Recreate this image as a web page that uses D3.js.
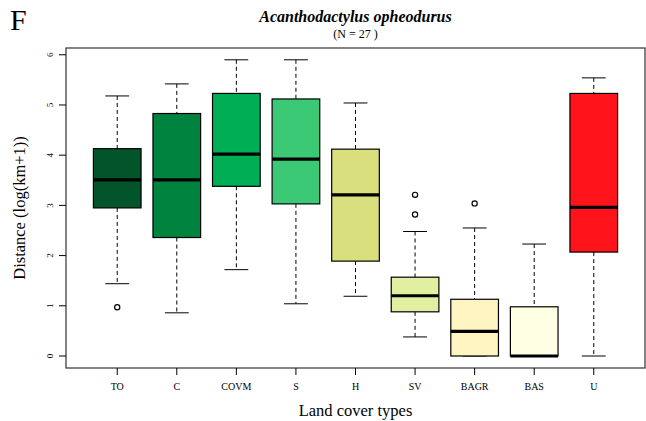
<!DOCTYPE html>
<html>
<head>
<meta charset="utf-8">
<script src="https://cdn.jsdelivr.net/npm/d3@7"></script>
<style>
  body { margin: 0; background: #fff; }
  text { font-family: "Liberation Serif", "Times New Roman", serif; }
</style>
</head>
<body>
<svg id="chart" width="646" height="421"></svg>
<script>
// land cover categories and box stats
const categories = ['TO', 'C', 'COVM', 'S', 'H', 'SV', 'BAGR', 'BAS', 'U']
const whiskerLow = [1.44, 0.86, 1.72, 1.04, 1.19, 0.38, 0.00, 0.00, 0.00]
const q1         = [2.95, 2.36, 3.38, 3.03, 1.89, 0.88, 0.00, 0.00, 2.07]
const medians    = [3.51, 3.51, 4.02, 3.92, 3.21, 1.20, 0.49, 0.00, 2.96]
const q3         = [4.13, 4.83, 5.23, 5.12, 4.12, 1.57, 1.13, 0.98, 5.23]
const whiskerHigh= [5.18, 5.42, 5.90, 5.90, 5.04, 2.48, 2.55, 2.23, 5.54]
const outliers   = [[0.97], [], [], [], [], [3.21, 2.82], [3.04], [], []]
const fills = ['#02552a', '#00833f', '#00ae55', '#3bc976', '#d8df7c', '#e1efa3', '#fef5c3', '#ffffe3', '#ff141c']
const yTicks = [0, 1, 2, 3, 4, 5, 6]

const svg = d3.select('#chart')
const plot = {left: 66, right: 645, top: 48, bottom: 368}

// R style: categories at 1..n, xlim 0.5..n+0.5 extended by 4%
const n = categories.length
const xlo = 0.5 - 0.04 * n, xhi = n + 0.5 + 0.04 * n
const x = d3.scaleLinear().domain([xlo, xhi]).range([plot.left, plot.right])
const y = d3.scaleLinear().domain([-0.239, 6.135]).range([plot.bottom, plot.top])

const boxW = 0.8 * (x(2) - x(1))
const capW = boxW / 2

const data = categories.map((c, i) => ({
    name: c, pos: i + 1, lo: whiskerLow[i], q1: q1[i], med: medians[i],
    q3: q3[i], hi: whiskerHigh[i], out: outliers[i], fill: fills[i]
}))

const g = svg.append('g')

const box = g.selectAll('g.box')
    .data(data)
    .enter()
    .append('g')
    .attr('class', 'box')

// dashed whiskers
box.append('line')
    .attr('x1', d => x(d.pos)).attr('x2', d => x(d.pos))
    .attr('y1', d => y(d.hi)).attr('y2', d => y(d.q3))
    .attr('stroke', '#000').attr('stroke-dasharray', '4,3')
box.append('line')
    .attr('x1', d => x(d.pos)).attr('x2', d => x(d.pos))
    .attr('y1', d => y(d.q1)).attr('y2', d => y(d.lo))
    .attr('stroke', '#000').attr('stroke-dasharray', '4,3')

// staples
box.append('line')
    .attr('x1', d => x(d.pos) - capW / 2).attr('x2', d => x(d.pos) + capW / 2)
    .attr('y1', d => y(d.hi)).attr('y2', d => y(d.hi))
    .attr('stroke', '#000')
box.append('line')
    .attr('x1', d => x(d.pos) - capW / 2).attr('x2', d => x(d.pos) + capW / 2)
    .attr('y1', d => y(d.lo)).attr('y2', d => y(d.lo))
    .attr('stroke', '#000')

// the box itself
box.append('rect')
    .attr('x', d => x(d.pos) - boxW / 2)
    .attr('width', boxW)
    .attr('y', d => y(d.q3))
    .attr('height', d => y(d.q1) - y(d.q3))
    .attr('fill', d => d.fill)
    .attr('stroke', '#000')
    .attr('stroke-width', 1.2)

// median
box.append('line')
    .attr('x1', d => x(d.pos) - boxW / 2).attr('x2', d => x(d.pos) + boxW / 2)
    .attr('y1', d => y(d.med)).attr('y2', d => y(d.med))
    .attr('stroke', '#000').attr('stroke-width', 3.2)

// outliers
box.selectAll('circle')
    .data(d => d.out.map(v => ({pos: d.pos, v: v})))
    .enter()
    .append('circle')
    .attr('cx', d => x(d.pos))
    .attr('cy', d => y(d.v))
    .attr('r', 2.6)
    .attr('fill', 'none')
    .attr('stroke', '#000')
    .attr('stroke-width', 1.2)

// frame
svg.append('rect')
    .attr('x', plot.left).attr('y', plot.top)
    .attr('width', plot.right - plot.left).attr('height', plot.bottom - plot.top)
    .attr('fill', 'none').attr('stroke', '#333').attr('stroke-width', 1.2)

// y axis: ticks only, labels rotated like R's default las=0
const yAxis = svg.append('g')
yAxis.selectAll('line')
    .data(yTicks)
    .enter()
    .append('line')
    .attr('x1', plot.left - 7).attr('x2', plot.left)
    .attr('y1', d => y(d)).attr('y2', d => y(d))
    .attr('stroke', '#000')
yAxis.selectAll('text')
    .data(yTicks)
    .enter()
    .append('text')
    .attr('transform', d => `translate(${plot.left - 13},${y(d)}) rotate(-90)`)
    .attr('text-anchor', 'middle')
    .style('font-size', '9px')
    .text(d => d)

// x axis ticks and labels
const xAxis = svg.append('g')
xAxis.selectAll('line')
    .data(data)
    .enter()
    .append('line')
    .attr('x1', d => x(d.pos)).attr('x2', d => x(d.pos))
    .attr('y1', plot.bottom).attr('y2', plot.bottom + 7)
    .attr('stroke', '#000')
xAxis.selectAll('text')
    .data(data)
    .enter()
    .append('text')
    .attr('x', d => x(d.pos))
    .attr('y', plot.bottom + 22)
    .attr('text-anchor', 'middle')
    .style('font-size', '10px')
    .text(d => d.name)

// titles
svg.append('text')
    .attr('x', 10).attr('y', 30)
    .style('font-size', '30px')
    .text('F')
const cx = (plot.left + plot.right) / 2
svg.append('text')
    .attr('x', cx).attr('y', 22)
    .attr('text-anchor', 'middle')
    .style('font-size', '16px').style('font-weight', 'bold').style('font-style', 'italic')
    .text('Acanthodactylus opheodurus')
svg.append('text')
    .attr('x', cx).attr('y', 38)
    .attr('text-anchor', 'middle')
    .style('font-size', '12px')
    .text('(N = 27 )')
svg.append('text')
    .attr('x', cx).attr('y', 416)
    .attr('text-anchor', 'middle')
    .style('font-size', '16.5px')
    .text('Land cover types')
svg.append('text')
    .attr('transform', `translate(25,${(plot.top + plot.bottom) / 2}) rotate(-90)`)
    .attr('text-anchor', 'middle')
    .style('font-size', '16.5px')
    .text('Distance (log(km+1))')
</script>
</body>
</html>
